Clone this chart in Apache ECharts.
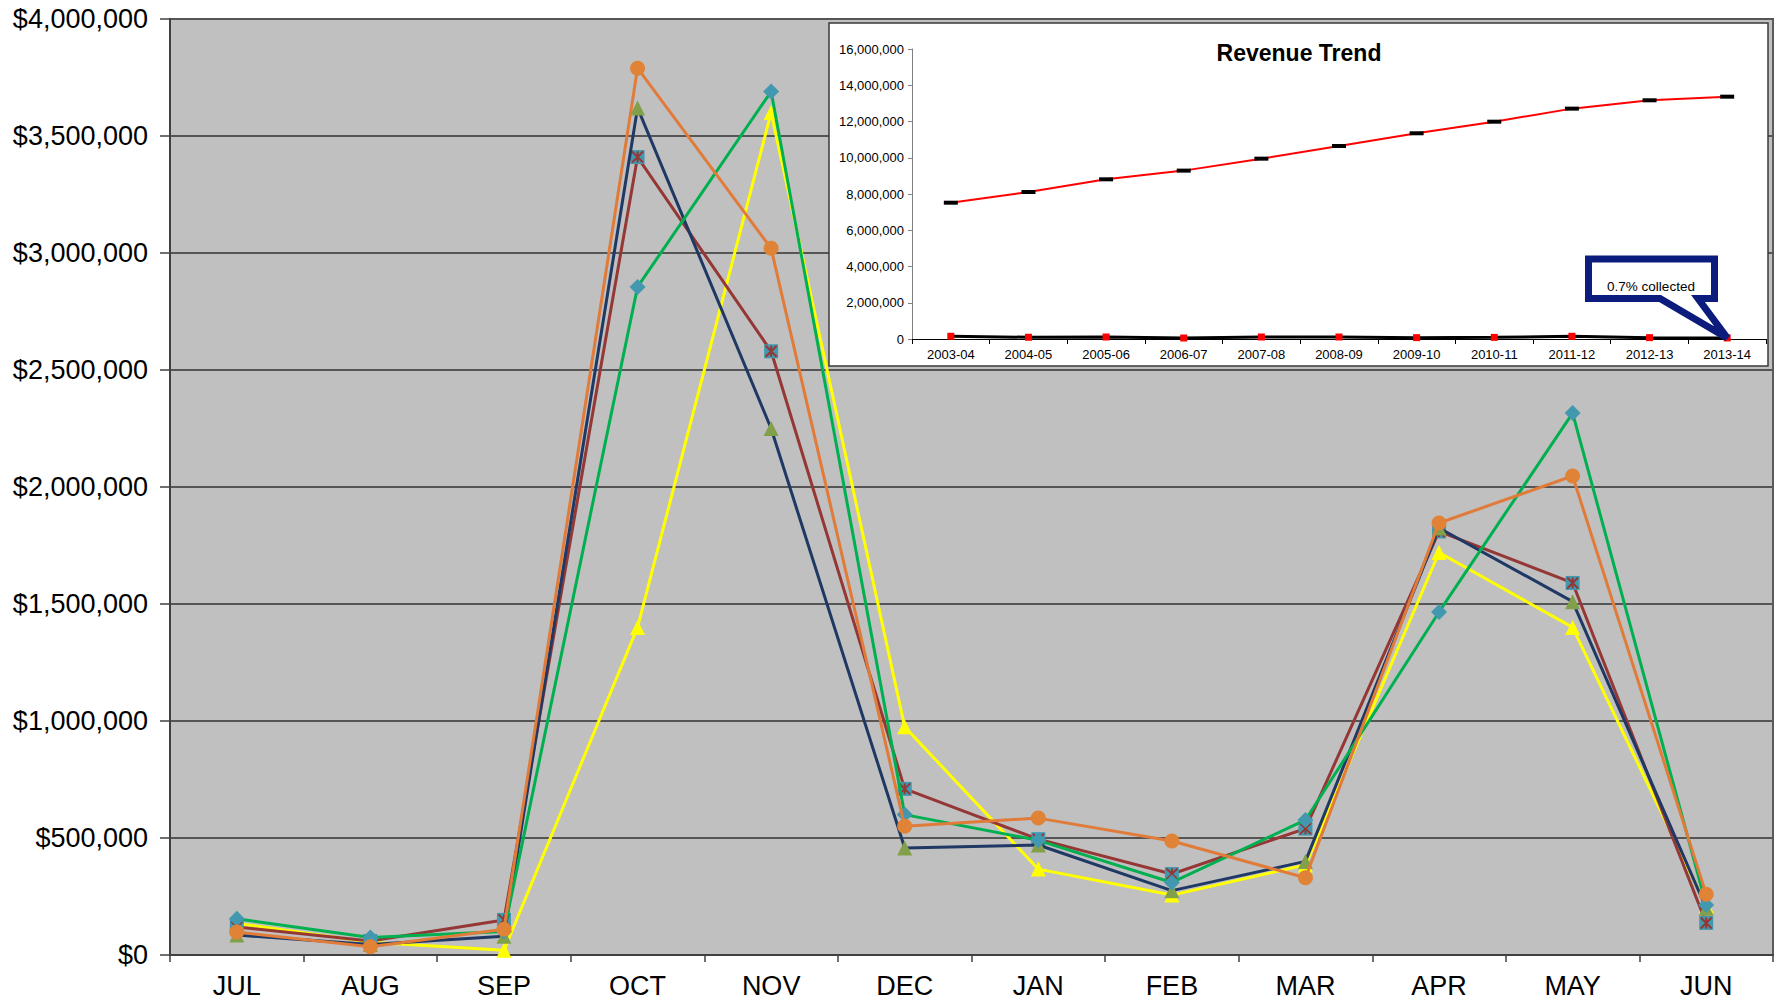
<!DOCTYPE html>
<html>
<head>
<meta charset="utf-8">
<script src="https://cdn.jsdelivr.net/npm/echarts@6/dist/echarts.min.js"></script>
<style>
html,body{margin:0;padding:0;background:#fff;}
#chart{width:1776px;height:1005px;}
</style>
</head>
<body>
<div id="chart"></div>
<script>
// ---- Main chart data (monthly revenue, $) ----
const months = ['JUL','AUG','SEP','OCT','NOV','DEC','JAN','FEB','MAR','APR','MAY','JUN'];
const greenDiamond = [155000, 75000, 100000, 2855000, 3690000, 600000, 490000, 310000, 577000, 1466000, 2316000, 214000];
const navyTriangle = [85000, 45000, 80000, 3620000, 2250000, 457000, 470000, 275000, 400000, 1825000, 1510000, 200000];
const redSquare = [120000, 60000, 150000, 3410000, 2580000, 710000, 495000, 346000, 540000, 1810000, 1590000, 137000];
const orangeCircle = [98000, 35000, 110000, 3790000, 3020000, 550000, 585000, 487000, 330000, 1846000, 2047000, 260000];
const yellowTriangle = [135000, 55000, 20000, 1400000, 3600000, 975000, 367000, 256000, 385000, 1720000, 1400000, 210000];

// ---- Inset chart data ----
const years = ['2003-04','2004-05','2005-06','2006-07','2007-08','2008-09','2009-10','2010-11','2011-12','2012-13','2013-14'];
const revenueTrend = [7520000, 8110000, 8810000, 9290000, 9950000, 10650000, 11350000, 11990000, 12710000, 13170000, 13370000];
const collectedTrend = [150000, 95000, 110000, 55000, 110000, 110000, 75000, 90000, 150000, 75000, 60000];
const calloutText = '0.7% collected';
const insetTitle = 'Revenue Trend';

const FONT = '"Liberation Sans", Arial, sans-serif';
const commas = v => String(v).replace(/\B(?=(\d{3})+(?!\d))/g, ',');

const chart = echarts.init(document.getElementById('chart'), null, {renderer: 'svg'});

function mainLine(name, data, lineColor, symbol, symbolColor, size, z) {
  return {
    name, type: 'line', data, xAxisIndex: 0, yAxisIndex: 0, z: z,
    symbol, symbolSize: size, showSymbol: true,
    lineStyle: {color: lineColor, width: 3},
    itemStyle: {color: symbolColor, borderWidth: 0},
    emphasis: {disabled: true}
  };
}

const baseGraphics = [
  {type: 'rect', z: 8, shape: {x: 829, y: 23, width: 939, height: 343},
   style: {fill: '#ffffff', stroke: '#3a3a3a', lineWidth: 1.5}},
  {type: 'text', z: 20,
   style: {text: insetTitle, x: 1299, y: 53, textAlign: 'center', textVerticalAlign: 'middle',
           fontSize: 23, fontWeight: 'bold', fontFamily: FONT, fill: '#000'}}
];

const option = {
  animation: false,
  backgroundColor: '#ffffff',
  grid: [
    {left: 170, top: 19, width: 1603, height: 936, show: true,
     backgroundColor: '#C0C0C0', borderColor: '#5a5a5a', borderWidth: 2},
    {left: 912, top: 49, width: 854, height: 290, z: 10}
  ],
  xAxis: [
    {type: 'category', gridIndex: 0, data: months, boundaryGap: true,
     axisLine: {show: true, lineStyle: {color: '#404040', width: 2}},
     axisTick: {show: true, length: 7, lineStyle: {color: '#404040', width: 1.5}},
     axisLabel: {color: '#000', fontSize: 27, fontFamily: FONT, margin: 17},
     splitLine: {show: false}},
    {type: 'category', gridIndex: 1, data: years, boundaryGap: true, z: 12,
     axisLine: {show: true, lineStyle: {color: '#000', width: 1}},
     axisTick: {show: true, length: 5, lineStyle: {color: '#000', width: 1}},
     axisLabel: {color: '#000', fontSize: 13, fontFamily: FONT, margin: 9},
     splitLine: {show: false}}
  ],
  yAxis: [
    {type: 'value', gridIndex: 0, min: 0, max: 4000000, interval: 500000,
     axisLine: {show: true, lineStyle: {color: '#404040', width: 2}},
     axisTick: {show: true, length: 10, lineStyle: {color: '#404040', width: 1.5}},
     axisLabel: {color: '#000', fontSize: 27, fontFamily: FONT, margin: 22,
                 formatter: v => '$' + commas(v)},
     splitLine: {show: true, lineStyle: {color: '#555555', width: 2}}},
    {type: 'value', gridIndex: 1, min: 0, max: 16000000, interval: 2000000, z: 12,
     axisLine: {show: true, lineStyle: {color: '#808080', width: 1}},
     axisTick: {show: true, length: 4, lineStyle: {color: '#808080', width: 1}},
     axisLabel: {color: '#000', fontSize: 13, fontFamily: FONT, margin: 8,
                 formatter: v => commas(v)},
     splitLine: {show: false}}
  ],
  series: [
    mainLine('Yellow', yellowTriangle, '#FFFF00', 'triangle', '#FFFF00', 15, 2),
    mainLine('Red', redSquare, '#953735', 'rect', '#4198AF', 14, 3),
    {name: 'RedStar', type: 'line', data: redSquare, xAxisIndex: 0, yAxisIndex: 0, z: 4,
     symbol: 'path://M0,0L10,10M10,0L0,10M5,0L5,10', symbolSize: 11, showSymbol: true,
     lineStyle: {width: 0, opacity: 0},
     itemStyle: {color: 'transparent', borderColor: '#953735', borderWidth: 2},
     emphasis: {disabled: true}},
    mainLine('Navy', navyTriangle, '#1F3864', 'triangle', '#82A04A', 15, 5),
    mainLine('Green', greenDiamond, '#00B050', 'diamond', '#4198AF', 16, 6),
    mainLine('Orange', orangeCircle, '#E07B39', 'circle', '#E08336', 15, 7),
    {name: 'Revenue', type: 'line', data: revenueTrend, xAxisIndex: 1, yAxisIndex: 1, z: 14,
     symbol: 'rect', symbolSize: [14, 4], showSymbol: true,
     lineStyle: {color: '#FF0000', width: 2},
     itemStyle: {color: '#000000', borderWidth: 0},
     emphasis: {disabled: true}},
    {name: 'Collected', type: 'line', data: collectedTrend, xAxisIndex: 1, yAxisIndex: 1, z: 14,
     symbol: 'rect', symbolSize: 7, showSymbol: true,
     lineStyle: {color: '#000000', width: 3},
     itemStyle: {color: '#FF0000', borderWidth: 0},
     emphasis: {disabled: true}}
  ],
  graphic: baseGraphics
};
chart.setOption(option);

// Callout pointing at the last "collected" point
const last = collectedTrend.length - 1;
const apex = chart.convertToPixel({gridIndex: 1}, [last, collectedTrend[last]]);
const bx0 = 1588.5, by0 = 259, bx1 = 1714.5, by1 = 298.5, tl = 1660, tr = 1698;
const calloutPts = [[bx0, by0], [bx1, by0], [bx1, by1], [tr, by1], [apex[0], apex[1]], [tl, by1], [bx0, by1]];
chart.setOption({
  graphic: baseGraphics.concat([
    {type: 'polygon', z: 30, shape: {points: calloutPts},
     style: {fill: '#ffffff', stroke: '#0C1C7C', lineWidth: 7, lineJoin: 'miter'}},
    {type: 'text', z: 31,
     style: {text: calloutText, x: 1651, y: 286, textAlign: 'center', textVerticalAlign: 'middle',
             fontSize: 13.5, fontFamily: FONT, fill: '#000'}}
  ])
});
</script>
</body>
</html>
